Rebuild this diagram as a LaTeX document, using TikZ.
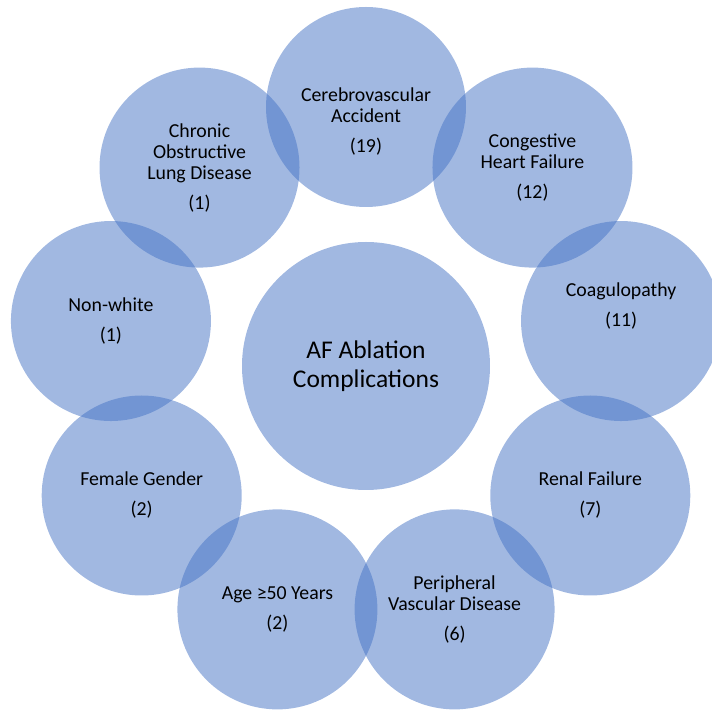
\documentclass[tikz,border=0pt]{standalone}
\usepackage{fontspec}
\setmainfont{Carlito}
\definecolor{ringblue}{RGB}{68,114,196}

\begin{document}
\begin{tikzpicture}[x=1pt,y=1pt,
  hub node/.style={circle,fill=ringblue,fill opacity=0.5,draw=none,minimum size=248pt,inner sep=0pt},
  outer node/.style={circle,fill=ringblue,fill opacity=0.5,draw=none,minimum size=200pt,inner sep=0pt},
  hub text/.style={align=center,font=\fontsize{25.5}{28.5}\selectfont},
  outer text/.style={align=center,font=\fontsize{19.8}{21}\selectfont}]
  \useasboundingbox (-366,-345) rectangle (346,366);
  \node[hub node] (0) at (0,0) {};
  \foreach \a [count=\i] in {90,50,10,-30,-70,-110,-150,170,130}
    \node[outer node] (\i) at (\a:259) {};

  \node[hub text]   (t0) at (0) {AF Ablation\\Complications};
  \node[outer text] (t1) at ([yshift=-15]1) {Cerebrovascular\\Accident\\[9pt](19)};
  \node[outer text] (t2) at (2) {Congestive\\Heart Failure\\[9pt](12)};
  \node[outer text] (t3) at ([yshift=15]3) {Coagulopathy\\[9pt](11)};
  \node[outer text] (t4) at (4) {Renal Failure\\[9pt](7)};
  \node[outer text] (t5) at (5) {Peripheral\\Vascular Disease\\[9pt](6)};
  \node[outer text] (t6) at (6) {Age ≥50 Years\\[9pt](2)};
  \node[outer text] (t7) at (7) {Female Gender\\[9pt](2)};
  \node[outer text] (t8) at (8) {Non-white\\[9pt](1)};
  \node[outer text] (t9) at (9) {Chronic\\Obstructive\\Lung Disease\\[9pt](1)};
\end{tikzpicture}
\end{document}
